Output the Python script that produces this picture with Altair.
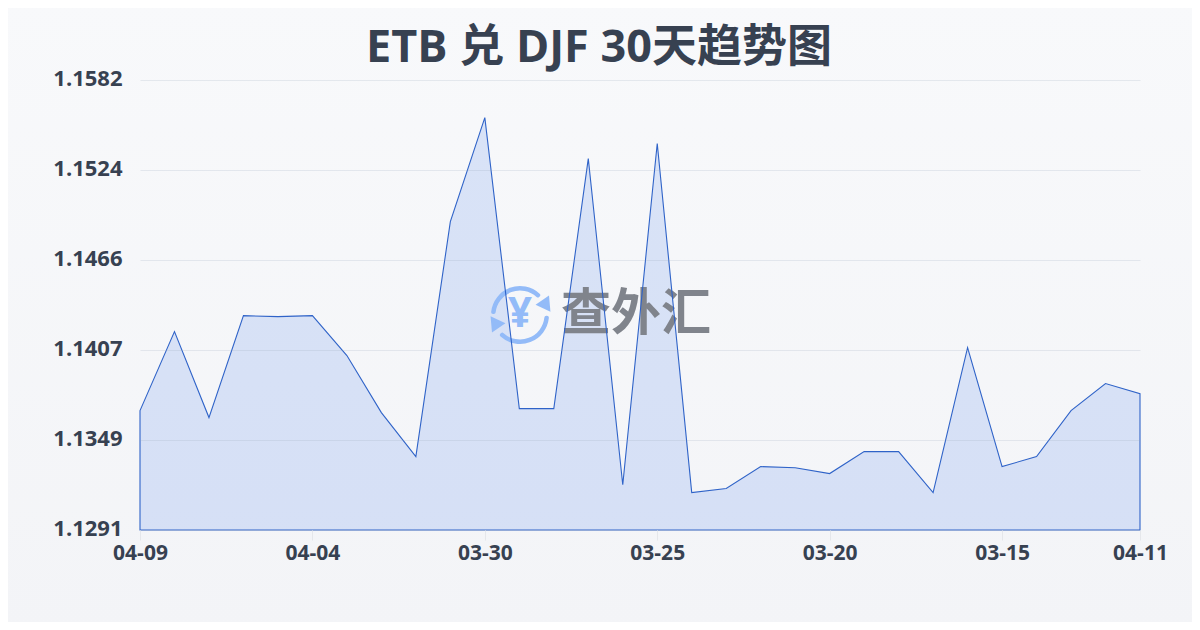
import altair as alt
import pandas as pd

dates = ["04-09","04-08","04-07","04-06","04-05","04-04","04-03","04-02","04-01","03-31",
         "03-30","03-29","03-28","03-27","03-26","03-25","03-24","03-23","03-22","03-21",
         "03-20","03-19","03-18","03-17","03-16","03-15","03-14","03-13","03-12","04-11"]
rates = [1.13682,1.14193,1.13637,1.14296,1.14290,1.14296,1.14038,1.13669,1.13385,1.14904,
         1.15577,1.13695,1.13695,1.15312,1.13203,1.15409,1.13152,1.13178,1.13320,1.13313,
         1.13275,1.13417,1.13417,1.13152,1.14089,1.13320,1.13385,1.13682,1.13857,1.13792]
x_ticks = ["04-09","04-04","03-30","03-25","03-20","03-15","04-11"]
y_ticks = [1.1291,1.13492,1.14074,1.14656,1.15238,1.1582]
title_text = "ETB 兑 DJF 30天趋势图"
watermark = "查外汇"

INK = "#374151"
BLUE = "#2f63c8"
LOGO = "#93bbf8"
FONT = "Open Sans, Noto Sans CJK SC"

df = pd.DataFrame({"idx": list(range(len(dates))), "date": dates, "rate": rates,
                   "floor": [y_ticks[0]] * len(dates)})
label_expr = "{" + ",".join(f"'{dates.index(d)}':'{d}'" for d in x_ticks) + "}[datum.value]"
x_enc = alt.X("idx:Q", title=None,
              scale=alt.Scale(domain=[0, len(dates) - 1], nice=False, zero=False),
              axis=alt.Axis(values=[dates.index(d) for d in x_ticks], labelExpr=label_expr,
                            labelAngle=0, labelFontSize=21, labelFontWeight="bold",
                            labelColor=INK, labelFont=FONT, labelOverlap=False, labelPadding=2,
                            labelBound=False, labelFlush=False,
                            tickColor="#e5e7eb", tickSize=10, domain=False, grid=False, zindex=1))
y_enc = alt.Y("rate:Q", title=None,
              scale=alt.Scale(domain=[y_ticks[0], y_ticks[-1]], nice=False, zero=False),
              axis=alt.Axis(values=y_ticks, format=".4f", labelFontSize=22, labelFontWeight="bold",
                            labelColor=INK, labelFont=FONT, labelPadding=18, labelOffset=-2,
                            ticks=False, domain=False, grid=True, gridColor="#94a3b8",
                            gridOpacity=0.2, gridWidth=1, zindex=1))
y2_enc = alt.Y2("floor:Q")

one = alt.Data(values=[{}])

backdrop = alt.Chart(one).mark_rect(
    color=alt.Gradient(gradient="linear", x1=0, y1=0, x2=0, y2=1,
                       stops=[alt.GradientStop(color="#f8f9fb", offset=0),
                              alt.GradientStop(color="#f3f4f7", offset=1)])
).encode(x=alt.value(-140), x2=alt.value(1060), y=alt.value(-80), y2=alt.value(550))

fill = alt.Chart(df).mark_area(color="#2563eb", opacity=0.14).encode(x=x_enc, y=y_enc, y2=y2_enc)

arc1 = alt.Chart(one).mark_arc(color=LOGO, radius=29, radius2=24.5, theta=4.75, theta2=7.1, cornerRadius=2).encode(
    x=alt.value(380), y=alt.value(235))
arc2 = alt.Chart(one).mark_arc(color=LOGO, radius=29, radius2=24.5, theta=1.6, theta2=3.95, cornerRadius=2).encode(
    x=alt.value(380), y=alt.value(235))
head1 = alt.Chart(one).mark_point(shape="triangle", filled=True, color=LOGO, opacity=1, size=270, angle=145).encode(
    x=alt.value(405), y=alt.value(224))
head2 = alt.Chart(one).mark_point(shape="triangle", filled=True, color=LOGO, opacity=1, size=270, angle=325).encode(
    x=alt.value(356), y=alt.value(244))
yen = alt.Chart(one).mark_text(text="¥", color=LOGO, font=FONT, fontWeight="bold", fontSize=42,
                               align="center", baseline="middle").encode(x=alt.value(380), y=alt.value(234))
mark_word = alt.Chart(one).mark_text(text=watermark, color="#80848c", font=FONT, fontWeight="bold", fontSize=50,
                                     align="center", baseline="middle").encode(x=alt.value(496), y=alt.value(235))

outline = alt.Chart(df).mark_area(fillOpacity=0, fill="#2563eb", stroke=BLUE, strokeWidth=1.1).encode(x=x_enc, y=y_enc, y2=y2_enc)

chart = alt.layer(backdrop, fill, arc1, arc2, head1, head2, yen, mark_word, outline).properties(
    width=1000, height=450,
    title=alt.TitleParams(title_text, anchor="middle", dx=-41, offset=-71, font=FONT, fontSize=45,
                          fontWeight="bold", color=INK),
    background="#f6f7f9",
    padding={"left": 132, "top": 72, "right": 52, "bottom": 92},
    autosize=alt.AutoSizeParams(type="none", contains="content"),
).configure_view(stroke=None)

chart.save("out.html", embed_options={"renderer": "svg", "actions": False})
